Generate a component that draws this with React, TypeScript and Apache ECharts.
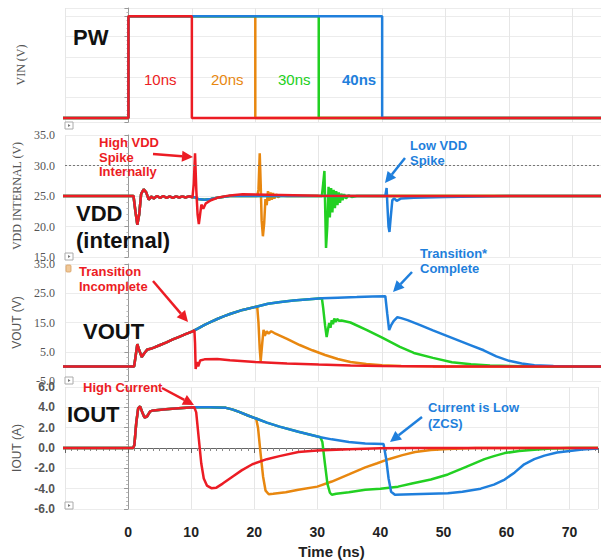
import React, { useEffect, useRef } from 'react';
import * as echarts from 'echarts';

// ---------- colours ----------
const RED = '#ec1c24';
const ORANGE = '#e8870f';
const GREEN = '#22d022';
const BLUE = '#1f7fdc';

// ---------- time axis ----------
const T_MIN = -10;
const T_MAX = 74.5;

// ---------- VIN (pulse widths) ----------
const vinRed = [[-10.5, 0], [0, 0], [0, 1], [10, 1], [10, 0], [74.5, 0]];
const vinOrange = [[-10.5, 0], [0, 0], [0, 1], [20, 1], [20, 0], [74.5, 0]];
const vinGreen = [[-10.5, 0], [0, 0], [0, 1], [30, 1], [30, 0], [74.5, 0]];
const vinBlue = [[-10.5, 0], [0, 0], [0, 1], [40, 1], [40, 0], [74.5, 0]];

// ---------- VDD internal ----------
const vddStart = [[-10.5, 25], [0.8, 25], [1.1, 22.5], [1.4, 20.3], [1.7, 22], [2.0, 25.3], [2.4, 26.1], [2.8, 25.6], [3.2, 24.4], [3.6, 24.9], [4.0, 24.6], [4.5, 25.0], [5.0, 24.7], [5.5, 25.0], [6.0, 24.7], [6.5, 24.95], [7.0, 24.7], [7.5, 24.95], [8.0, 24.75], [8.5, 24.95], [9.0, 24.75], [9.5, 24.95], [10.1, 24.8]];
const vddRedTail = [[10.3, 27], [10.5, 32], [10.7, 26], [10.9, 22], [11.1, 20.4], [11.3, 22], [11.5, 23.6], [11.8, 22.9], [12.2, 23.8], [13, 24.3], [14, 24.7], [16, 25.1], [18, 25.3], [22, 25.2], [30, 25.05], [40, 25], [74.5, 25]];
const vddHold = [[10.5, 24.8], [11, 24.5], [12, 24.4], [13, 24.5], [14, 24.7], [16, 25], [20.3, 25]];
const vddOrangeTail = [[20.5, 26], [20.7, 32], [20.85, 27], [21.0, 21], [21.2, 18.4], [21.4, 20.5], [21.6, 24.5], [21.8, 23.5], [22.0, 25.8], [22.2, 24.2], [22.4, 25.6], [22.6, 24.4], [22.8, 25.5], [23.0, 24.6], [23.3, 25.3], [23.6, 24.8], [24, 25.1], [25, 25], [74.5, 25]];
const vddGreenTail = [[30.5, 25], [30.7, 27], [30.9, 29.1], [31.0, 24], [31.15, 16.5], [31.35, 20], [31.55, 26.5], [31.75, 21.5], [31.95, 26.3], [32.15, 22.3], [32.35, 26], [32.55, 23], [32.75, 25.8], [32.95, 23.5], [33.15, 25.6], [33.35, 23.9], [33.55, 25.4], [33.75, 24.3], [34.0, 25.3], [34.3, 24.6], [34.7, 25.1], [35.2, 24.85], [36, 25], [74.5, 25]];
const vddBlueTail = [[40.5, 25], [40.7, 26.3], [40.85, 23], [41.0, 20], [41.15, 19.1], [41.35, 21.5], [41.6, 24.3], [41.9, 24.6], [42.3, 24.2], [43, 24.6], [45, 24.7], [50, 24.85], [60, 25], [74.5, 25]];

// ---------- VOUT ----------
const voutStart = [[-10.5, 0], [0.9, 0], [1.1, 3], [1.4, 7.6], [1.7, 5.5], [2.1, 3.2], [2.5, 4.5], [3, 5.8], [3.5, 6], [4, 6.4], [5, 7.3], [6, 8.2], [7, 9.2], [8, 10.1], [9, 11], [10, 11.9], [10.4, 12.3]];
const voutRedTail = [[10.5, 8], [10.6, -0.9], [10.8, 1.5], [11, 0], [11.3, 2], [12, 2.4], [14, 2.5], [16, 2.1], [20, 1.5], [25, 1.0], [30, 0.6], [35, 0.3], [40, 0.1], [50, 0], [74.5, 0]];
const voutRise1 = [[11, 13], [12, 14.2], [13, 15.2], [14, 16.2], [15, 17.1], [16, 17.9], [18, 19.3], [20.3, 20.5]];
const voutOrangeTail = [[20.5, 15], [20.7, 6], [20.85, 1.8], [21.1, 8], [21.3, 12.5], [21.5, 10.5], [21.8, 12], [22.1, 11.2], [22.5, 12], [23, 11.4], [25, 9.4], [27, 7.3], [29, 5.5], [31, 3.9], [33, 2.5], [35, 1.5], [37.5, 0.8], [40, 0.4], [43, 0.15], [48, 0], [74.5, 0]];
const voutRise2 = [[22, 21.4], [24, 22], [26, 22.5], [28, 22.9], [30.5, 23.3]];
const voutGreenTail = [[30.7, 20], [31, 14], [31.25, 10], [31.45, 12.5], [31.65, 14.8], [31.85, 13.2], [32.05, 15.8], [32.25, 14.4], [32.45, 16.4], [32.65, 15.2], [32.9, 16.2], [33.2, 15.6], [33.6, 15.7], [35, 15], [37.6, 12.4], [40, 9.8], [42.8, 6.7], [45, 4.6], [48, 2.9], [51, 1.4], [54, 0.7], [57, 0.3], [62, 0.05], [66, 0], [74.5, 0]];
const voutRise3 = [[33, 23.5], [36, 23.7], [38.5, 23.9], [40.5, 24.0]];
const voutBlueTail = [[40.8, 18], [41.1, 12.4], [41.4, 14], [41.8, 15.5], [42.4, 16.8], [43, 16.5], [44, 15.8], [46, 14.1], [48, 12.3], [50, 10.6], [52, 8.9], [54, 7.2], [56, 5.5], [58, 3.4], [60, 1.9], [62, 1.0], [64, 0.4], [67, 0.1], [70, 0], [74.5, 0]];

// ---------- IOUT ----------
const ioutStart = [[-10.5, 0], [0.8, 0], [1.0, 0.3], [1.3, 2.5], [1.6, 3.9], [1.9, 4.1], [2.2, 3.6], [2.6, 3.0], [3.0, 3.1], [3.5, 3.6], [4, 3.7], [6, 3.8], [8, 3.9], [10.5, 4.0]];
const ioutRedTail = [[10.8, 3.5], [11.2, 1], [11.6, -1.5], [12, -3], [12.5, -3.7], [13.2, -3.95], [14, -3.9], [15, -3.5], [16.6, -2.8], [18, -2.2], [19.7, -1.6], [22, -1.1], [24, -0.8], [27, -0.4], [30, -0.25], [35, -0.12], [40, -0.03], [45, 0], [74.5, 0]];
const ioutHold1 = [[13, 4.0], [15.5, 3.95], [16.5, 3.8], [17.6, 3.55], [19, 3.2], [20.3, 2.9]];
const ioutOrangeTail = [[20.6, 2.0], [21, -0.5], [21.4, -2.8], [21.8, -4.2], [22.3, -4.55], [23, -4.5], [25, -4.35], [27, -4.1], [30, -3.8], [32.3, -3.3], [35, -2.6], [37.6, -1.9], [39.5, -1.5], [41.3, -1.1], [43.5, -0.7], [45.5, -0.4], [48, -0.2], [50.7, -0.1], [55, 0], [74.5, 0]];
const ioutHold2 = [[22, 2.5], [24, 2.1], [27, 1.6], [30.5, 1.05]];
const ioutGreenTail = [[30.8, 0.6], [31.2, -1.5], [31.6, -3.5], [32, -4.4], [32.3, -4.6], [33, -4.5], [35, -4.35], [37.6, -4.1], [40, -4.0], [42.8, -3.8], [45, -3.5], [48, -3.1], [50.7, -2.6], [53.4, -1.9], [56.5, -1.1], [58, -0.8], [59.7, -0.5], [62, -0.3], [63.9, -0.2], [67, -0.05], [70, 0], [74.5, 0]];
const ioutHold3 = [[32.3, 0.85], [35, 0.6], [37.6, 0.45], [40.5, 0.4]];
const ioutBlueTail = [[40.9, -1], [41.3, -3], [41.7, -4.3], [42.3, -4.6], [45, -4.55], [50.7, -4.45], [53, -4.3], [55.9, -4.0], [58, -3.6], [59.7, -3.1], [61.3, -2.4], [62.8, -1.6], [64.4, -1.1], [66, -0.75], [68, -0.45], [70, -0.3], [72, -0.15], [74.5, -0.05]];

// ---------- axes ----------
const yNames = ['VIN (V)', 'VDD INTERNAL (V)', 'VOUT (V)', 'IOUT (A)'];
const yRanges = [
  { min: -0.04, max: 1.08 },
  { min: 15, max: 35, interval: 5 },
  { min: -5, max: 35, interval: 10 },
  { min: -6, max: 6, interval: 2 },
];

const SANS = '"Liberation Sans", Arial, sans-serif';
const SERIF = '"Liberation Serif", "Times New Roman", serif';

function arrow(x1: number, y1: number, x2: number, y2: number, color: string) {
  const a = Math.atan2(y2 - y1, x2 - x1);
  const L = 11, W = 5.5;
  const bx = x2 - L * Math.cos(a), by = y2 - L * Math.sin(a);
  return [
    { type: 'line', shape: { x1, y1, x2: bx, y2: by }, style: { stroke: color, lineWidth: 2.5 }, z: 100 },
    {
      type: 'polygon',
      shape: { points: [[x2, y2], [bx + W * Math.sin(a), by - W * Math.cos(a)], [bx - W * Math.sin(a), by + W * Math.cos(a)]] },
      style: { fill: color }, z: 100,
    },
  ];
}

function txt(text: string, x: number, y: number, fill: string, font: string, lineHeight = 15) {
  return { type: 'text', x, y, z: 100, style: { text, fill, font, textAlign: 'left', textVerticalAlign: 'middle', lineHeight } };
}

function panelIcon(x: number, y: number) {
  return [
    { type: 'rect', shape: { x, y, width: 8, height: 7 }, style: { fill: '#fff', stroke: '#aaa', lineWidth: 1 }, z: 90 },
    { type: 'polygon', shape: { points: [[x + 3, y + 2], [x + 3, y + 5], [x + 5.5, y + 3.5]] }, style: { fill: '#777' }, z: 91 },
  ];
}

export default function App() {
  const ref = useRef<HTMLDivElement>(null);
  useEffect(() => {
    if (!ref.current) return;
    const chart = echarts.init(ref.current, null, { renderer: 'svg' });

    const grids = [
      { left: 65, right: 0, top: 8, height: 114 },
      { left: 65, right: 0, top: 135, height: 122 },
      { left: 65, right: 0, top: 264, height: 117 },
      { left: 65, right: 0, top: 387, height: 122 },
    ];

    const xAxis = grids.map((_, i) => ({
      type: 'value', gridIndex: i, min: T_MIN, max: T_MAX, interval: 10,
      offset: i === 3 ? 4 : 0,
      axisLine: { show: i === 3, lineStyle: { color: '#666' } },
      axisTick: { show: i === 3, length: 5, lineStyle: { color: '#666' } },
      minorTick: { show: i === 3, splitNumber: 10, length: 3, lineStyle: { color: '#888' } },
      axisLabel: {
        show: i === 3, margin: 12, fontSize: 14, fontWeight: 'bold', color: '#222', fontFamily: SANS,
        formatter: (v: number) => (v < 0 || v > 70 ? '' : String(v)),
      },
      splitLine: { show: true, lineStyle: { color: '#e6e6e6', width: 1 } },
      name: i === 3 ? 'Time (ns)' : '',
      nameLocation: 'middle', nameGap: 31,
      nameTextStyle: { fontSize: 15, fontWeight: 'bold', color: '#222', fontFamily: SANS },
    }));

    const yAxis = grids.map((_, i) => ({
      type: 'value', gridIndex: i, ...yRanges[i],
      offset: 3,
      name: yNames[i], nameLocation: 'middle', nameGap: 35,
      nameTextStyle: { fontSize: 12, color: '#555', fontFamily: i < 2 ? SERIF : SANS },
      axisLine: { show: true, lineStyle: { color: '#999' } },
      axisTick: { show: true, length: 4, lineStyle: { color: '#999' } },
      minorTick: { show: true, splitNumber: 5, length: 2, lineStyle: { color: '#bbb' } },
      axisLabel: {
        show: i > 0, margin: 7, fontSize: 12, color: '#555',
        fontFamily: i < 3 ? SERIF : SANS, fontWeight: i === 3 ? 'bold' : 'normal',
        formatter: (v: number) => v.toFixed(1),
      },
      splitLine: { show: true, lineStyle: { color: '#ececec', width: 1 } },
    }));

    const line = (name: string, data: number[][], color: string, idx: number, extra: any = {}) => ({
      type: 'line', name, data, xAxisIndex: idx, yAxisIndex: idx,
      showSymbol: false, symbol: 'none', silent: true,
      lineStyle: { color, width: 2.5 }, itemStyle: { color }, ...extra,
    });

    const series = [
      line('VIN 20ns', vinOrange, ORANGE, 0),
      line('VIN 30ns', vinGreen, GREEN, 0),
      line('VIN 40ns', vinBlue, BLUE, 0),
      line('VIN 10ns', vinRed, RED, 0),

      line('VDD 20ns', [...vddStart, ...vddHold, ...vddOrangeTail], ORANGE, 1),
      line('VDD 30ns', [...vddStart, ...vddHold, ...vddGreenTail], GREEN, 1),
      line('VDD 40ns', [...vddStart, ...vddHold, ...vddBlueTail], BLUE, 1),
      line('VDD 10ns', [...vddStart, ...vddRedTail], RED, 1, {
        markLine: {
          silent: true, symbol: 'none', label: { show: false },
          lineStyle: { type: [2, 2], color: '#777', width: 1.2 },
          data: [{ yAxis: 30 }],
        },
      }),

      line('VOUT 20ns', [...voutStart, ...voutRise1, ...voutOrangeTail], ORANGE, 2),
      line('VOUT 30ns', [...voutStart, ...voutRise1, ...voutRise2, ...voutGreenTail], GREEN, 2),
      line('VOUT 40ns', [...voutStart, ...voutRise1, ...voutRise2, ...voutRise3, ...voutBlueTail], BLUE, 2),
      line('VOUT 10ns', [...voutStart, ...voutRedTail], RED, 2),

      line('IOUT 20ns', [...ioutStart, ...ioutHold1, ...ioutOrangeTail], ORANGE, 3),
      line('IOUT 30ns', [...ioutStart, ...ioutHold1, ...ioutHold2, ...ioutGreenTail], GREEN, 3),
      line('IOUT 40ns', [...ioutStart, ...ioutHold1, ...ioutHold2, ...ioutHold3, ...ioutBlueTail], BLUE, 3),
      line('IOUT 10ns', [...ioutStart, ...ioutRedTail], RED, 3),
    ];

    const big = `bold 22px ${SANS}`;
    const ann = `bold 13px ${SANS}`;
    const graphic: any[] = [
      txt('PW', 73, 37, '#111', big),
      txt('VDD\n(internal)', 76, 227, '#111', big, 27),
      txt('VOUT', 83, 331, '#111', big),
      txt('IOUT', 67, 414, '#111', big),

      txt('10ns', 144, 79, RED, `15px ${SANS}`),
      txt('20ns', 211, 79, ORANGE, `15px ${SANS}`),
      txt('30ns', 278, 79, GREEN, `15px ${SANS}`),
      txt('40ns', 342, 79, BLUE, `bold 15px ${SANS}`),

      txt('High VDD\nSpike\nInternally', 99, 157, RED, ann, 14.5),
      ...arrow(153, 154, 193, 157, RED),
      txt('Low VDD\nSpike', 410, 152.5, BLUE, ann, 15),
      ...arrow(405, 158, 385, 183, BLUE),
      txt('Transition\nIncomplete', 79, 279, RED, ann, 14.5),
      ...arrow(153, 281, 188, 322, RED),
      txt('Transition*\nComplete', 420, 260.5, BLUE, ann, 15),
      ...arrow(412, 272, 393, 292, BLUE),
      txt('High Current', 83, 387, RED, ann),
      ...arrow(162, 388, 194, 405, RED),
      txt('Current is Low\n(ZCS)', 428, 415, BLUE, ann, 16),
      ...arrow(422, 417, 390, 442, BLUE),

      ...panelIcon(65, 122),
      ...panelIcon(65, 253),
      ...panelIcon(65, 377),
      ...panelIcon(65, 502),
      { type: 'rect', shape: { x: 66, y: 265, width: 5, height: 7, r: 1 }, style: { fill: '#f0c898', stroke: '#d8a060', lineWidth: 0.8 }, z: 90 },
    ];

    chart.setOption({
      animation: false,
      backgroundColor: '#ffffff',
      grid: grids,
      xAxis,
      yAxis,
      series,
      graphic,
    });
    return () => chart.dispose();
  }, []);

  return <div ref={ref} style={{ position: 'absolute', left: 0, top: 0, width: 601, height: 560 }} />;
}
